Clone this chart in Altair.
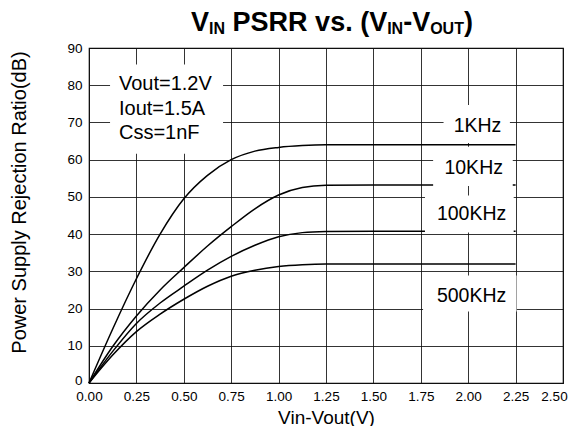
import altair as alt
import pandas as pd

# ---- data ----
vin_vout = [0, 0.125, 0.25, 0.375, 0.5, 0.625, 0.75, 0.875, 1.0, 1.125, 1.25, 1.5, 1.75, 2.0, 2.25]
psrr_1khz = [0, 14.5, 28.0, 40.0, 49.5, 55.8, 60.0, 62.3, 63.3, 63.8, 64.0, 64.0, 64.0, 64.0, 64.0]
psrr_10khz = [0, 9.8, 18.0, 25.0, 31.0, 36.8, 42.0, 46.8, 50.5, 52.5, 53.1, 53.2, 53.2, 53.2, 53.2]
psrr_100khz = [0, 8.5, 16.0, 21.5, 26.0, 30.3, 34.0, 37.0, 39.3, 40.4, 40.7, 40.8, 40.8, 40.8, 40.8]
psrr_500khz = [0, 7.5, 13.8, 18.5, 22.5, 26.0, 28.7, 30.3, 31.3, 31.8, 32.0, 32.0, 32.0, 32.0, 32.0]
series_names = ["1KHz", "10KHz", "100KHz", "500KHz"]

x_ticks = [0, 0.25, 0.5, 0.75, 1.0, 1.25, 1.5, 1.75, 2.0, 2.25, 2.5]
y_ticks = [0, 10, 20, 30, 40, 50, 60, 70, 80, 90]

# curve labels (in data units) and their white boxes
label_x = [2.049, 2.029, 2.018, 2.018]
label_y = [69.0, 57.7, 45.5, 23.4]
box_x1 = [1.87, 1.815, 1.772, 1.762]
box_x2 = [2.22, 2.235, 2.24, 2.255]
box_y1 = [64.5, 52.9, 40.4, 19.2]
box_y2 = [74.7, 63.5, 50.4, 28.9]

cond_lines = ["Vout=1.2V", "Iout=1.5A", "Css=1nF"]
cond_x = [0.158, 0.158, 0.158]
cond_y = [80.2, 73.6, 67.2]
cond_box = {"x1": 0.111, "x2": 0.707, "y1": 61.6, "y2": 85.6}

FONT = "Liberation Sans"

rows = []
for name, vals in zip(series_names, [psrr_1khz, psrr_10khz, psrr_100khz, psrr_500khz]):
    for xv, yv in zip(vin_vout, vals):
        rows.append({"x": xv, "y": yv, "series": name})
curves = pd.DataFrame(rows)

labels = pd.DataFrame({"text": series_names, "x": label_x, "y": label_y,
                       "x1": box_x1, "x2": box_x2, "y1": box_y1, "y2": box_y2})
conds = pd.DataFrame({"text": cond_lines, "x": cond_x, "y": cond_y})
cbox = pd.DataFrame([cond_box])

xscale = alt.Scale(domain=[0, 2.5], nice=False, zero=False)
yscale = alt.Scale(domain=[0, 90], nice=False)

x_axis = alt.Axis(values=x_ticks, format=".2f", title="Vin-Vout(V)", grid=True,
                  ticks=False, tickSize=0, domain=False, labelPadding=6,
                  labelOverlap=False, labelFlush=False, labelBound=False,
                  labelOffset=alt.condition("datum.value >= 2.5", alt.value(-9), alt.value(0)),
                  labelFontSize=13.5, titleFontSize=19, labelFont=FONT, titleFont=FONT,
                  titleFontWeight="normal", titleX=237, titleY=40,
                  titleBaseline="alphabetic", labelColor="black", titleColor="black")
y_axis = alt.Axis(values=y_ticks, title="Power Supply Rejection Ratio(dB)", grid=True,
                  ticks=False, tickSize=0, domain=False, labelPadding=7,
                  labelOverlap=False, labelFlush=False, labelBound=False,
                  labelOffset=alt.condition("datum.value <= 0", alt.value(-3), alt.value(0)),
                  labelFontSize=13.5, titleFontSize=20, labelFont=FONT, titleFont=FONT,
                  titleFontWeight="normal", titleAngle=270, titleX=-64, titleY=154,
                  titleBaseline="alphabetic", titleAlign="center",
                  labelColor="black", titleColor="black")


def X(field):
    return alt.X(field, scale=xscale, axis=x_axis, title="Vin-Vout(V)")


def Y(field):
    return alt.Y(field, scale=yscale, axis=y_axis, title="Power Supply Rejection Ratio(dB)")


lines = alt.Chart(curves).mark_line(color="black", strokeWidth=1.5, interpolate="monotone").encode(
    x=X("x:Q"), y=Y("y:Q"), detail="series:N",
)

boxes = alt.Chart(labels).mark_rect(color="white").encode(
    x=X("x1:Q"), x2="x2:Q", y=Y("y1:Q"), y2="y2:Q",
)
box_text = alt.Chart(labels).mark_text(font=FONT, fontSize=19.5, color="black",
                                       align="center", baseline="middle").encode(
    x=X("x:Q"), y=Y("y:Q"), text="text:N")

cond_rect = alt.Chart(cbox).mark_rect(color="white").encode(
    x=X("x1:Q"), x2="x2:Q", y=Y("y1:Q"), y2="y2:Q",
)
cond_text = alt.Chart(conds).mark_text(font=FONT, fontSize=20, color="black",
                                       align="left", baseline="middle").encode(
    x=X("x:Q"), y=Y("y:Q"), text="text:N")

# ---- title with subscripts, built from pieces ----
bold_w = {"V": 0.667, "I": 0.278, "N": 0.722, " ": 0.278, "P": 0.667, "S": 0.667, "R": 0.722,
          "v": 0.556, "s": 0.556, ".": 0.278, "(": 0.333, "-": 0.333, "O": 0.778, "U": 0.722,
          "T": 0.611, ")": 0.333}
MAIN_FS, SUB_FS = 27, 16
# (text, is_subscript, extra gap before in em of main font)
title_parts = [("V", False, 0), ("IN", True, 0), ("PSRR vs. (V", False, 0.278),
               ("IN", True, 0), ("-V", False, 0), ("OUT", True, 0), (")", False, 0)]
widths = [sum(bold_w[c] for c in t) * (SUB_FS if s else MAIN_FS) + g * MAIN_FS
          for t, s, g in title_parts]
total = sum(widths)
px = 237 - total / 2 + 6
tr = []
for (t, s, g), w in zip(title_parts, widths):
    tr.append({"t": t, "px": px + g * MAIN_FS, "sub": s})
    px += w
tdf = pd.DataFrame(tr)

title_main = alt.Chart(tdf).transform_filter("!datum.sub").mark_text(
    font=FONT, fontSize=MAIN_FS, fontWeight="bold", color="black", align="left",
    baseline="alphabetic").encode(x=alt.X("px:Q", scale=None), y=alt.value(-17), text="t:N")
title_sub = alt.Chart(tdf).transform_filter("datum.sub").mark_text(
    font=FONT, fontSize=SUB_FS, fontWeight="bold", color="black", align="left",
    baseline="alphabetic").encode(x=alt.X("px:Q", scale=None), y=alt.value(-14), text="t:N")

chart = alt.layer(lines, boxes, box_text, cond_rect, cond_text, title_main, title_sub).properties(
    width=474, height=335,
    autosize=alt.AutoSizeParams(type="none"),
    padding={"left": 81, "top": 40, "right": 5, "bottom": 43},
    background="white",
).configure_view(stroke="black", strokeWidth=1.2).configure_axis(
    gridColor="#111", gridOpacity=0.85, gridWidth=1
)

chart.save("out.html", embed_options={"renderer": "svg", "actions": False})
